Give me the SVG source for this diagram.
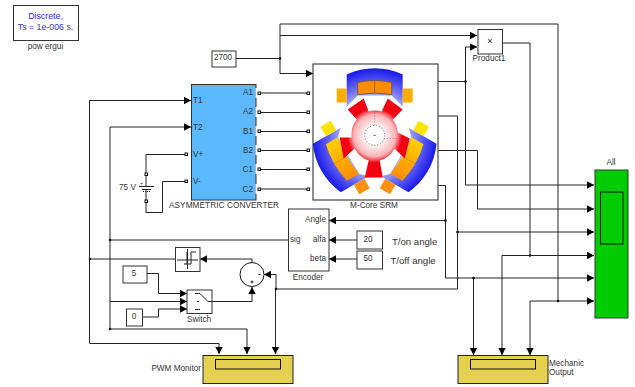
<svg xmlns="http://www.w3.org/2000/svg" width="635" height="387" viewBox="0 0 635 387">
<style>
text{font-family:"Liberation Sans",Arial,sans-serif;font-size:8.2px;fill:#333}
.m{text-anchor:middle}.e{text-anchor:end}
.b{fill:#fff;stroke:#333;stroke-width:1}
.w{fill:none;stroke:#222;stroke-width:1}
.a{marker-end:url(#ar)}
.p{fill:#fff;stroke:#111;stroke-width:1}
.d{fill:#111}
.y{fill:#e6d050;stroke:#222;stroke-width:1}
.i{fill:#e6d050;stroke:#111;stroke-width:1}
.c{stroke:#6b4a10;stroke-width:.7}
.g{font-size:8.800px;fill:#3030e0}
.t{font-size:9.600px}
</style>
<defs>
<marker id="ar" markerUnits="userSpaceOnUse" markerWidth="8" markerHeight="8" refX="7" refY="4" orient="auto"><path d="M0 .3L7 4L0 7.7z" fill="#000"/></marker>
<radialGradient id="gs" gradientUnits="userSpaceOnUse" cx="0" cy="0" r="69"><stop offset=".5" stop-color="#c0c4ff"/><stop offset=".72" stop-color="#6a6cf6"/><stop offset="1" stop-color="#1010e8"/></radialGradient>
<radialGradient id="gr" gradientUnits="userSpaceOnUse" cx="0" cy="0" r="36"><stop offset=".22" stop-color="#fff"/><stop offset=".58" stop-color="#fbb4b8"/><stop offset=".76" stop-color="#f00010"/><stop offset="1" stop-color="#f00010"/></radialGradient>
<linearGradient id="gca"><stop offset="0" stop-color="#ffd000"/><stop offset="1" stop-color="#ff8c00"/></linearGradient>
<linearGradient id="gcb"><stop offset="0" stop-color="#ff8c00"/><stop offset="1" stop-color="#ffd000"/></linearGradient>
</defs>
<g id="connectors">
<path class="w" d="M236 58.500H280"/>
<path class="w a" d="M280 58.500V73.500H313"/>
<path class="w a" d="M280 58.500V35.500H477"/>
<path class="w" d="M280 35.500V24H558V301"/>
<path class="w a" d="M558 301H594"/>
<path class="w a" d="M558 301H530V355"/>
<path class="w" d="M502 43H530V255.500"/>
<path class="w a" d="M530 255.500H594"/>
<path class="w a" d="M530 255.500H502V355"/>
<path class="w" d="M438 81.500H465.500"/>
<path class="w a" d="M465.500 81.500V47H477"/>
<path class="w a" d="M465.500 81.500V185H594"/>
<path class="w" d="M438 116H457.500V232"/>
<path class="w a" d="M457.500 232H594"/>
<path class="w" d="M457.500 232V289H276"/>
<path class="w a" d="M438 150.500H477.500V209H594"/>
<path class="w" d="M438 185.500H445.500V278"/>
<path class="w a" d="M445.500 278H594"/>
<path class="w a" d="M473.500 278V355"/>
<path class="w a" d="M445.500 220.500H329"/>
<path class="w a" d="M357 240H329"/>
<path class="w a" d="M357 259H329"/>
<path class="w a" d="M276 289V274.500H264"/>
<path class="w a" d="M275.500 289V354"/>
<path class="w a" d="M252 301.500V287"/>
<path class="w" d="M212 301.500H252"/>
<path class="w a" d="M252 263V259H200"/>
<path class="w" d="M175 259H90"/>
<path class="w a" d="M89.500 259V100.500H191"/>
<path class="w a" d="M89.500 259V343.500H219V354"/>
<path class="w a" d="M110 329V127H191"/>
<path class="w a" d="M110 329H247V354"/>
<path class="w" d="M110 240H288"/>
<path class="w a" d="M110 301.500H187"/>
<path class="w a" d="M147 273.500H158.500V293.500H187"/>
<path class="w a" d="M142 317H158.500V309H187"/>
<path class="w" d="M186 154.500H146V174"/>
<path class="w" d="M146 201V212.500H162.500V181.500H186"/>
<path class="w" d="M259 93H308M259 112.500H308M259 131.500H308M259 150.500H308M259 169.500H308M259 189H308"/>
<g class="d">
<circle cx="280" cy="58.500" r="1.300"/><circle cx="465.500" cy="81.500" r="1.300"/><circle cx="457.500" cy="232" r="1.300"/><circle cx="445.500" cy="220.500" r="1.300"/>
<circle cx="473.500" cy="278" r="1.300"/><circle cx="530" cy="255.500" r="1.300"/><circle cx="558" cy="301" r="1.300"/><circle cx="276" cy="289" r="1.300"/>
<circle cx="90" cy="259" r="1.300"/><circle cx="110" cy="240" r="1.300"/><circle cx="110" cy="329" r="1.300"/>
</g>
</g>
<g id="powergui">
<rect class="b" x="13.500" y="5.500" width="65" height="35"/>
<text class="m g" x="45.500" y="19">Discrete,</text>
<text class="m g" x="45.500" y="30">Ts = 1e-006 s.</text>
<text class="m" x="45.500" y="49">pow ergui</text>
</g>
<g id="const2700">
<rect class="b" x="212" y="51" width="24" height="16"/>
<text class="m" x="223" y="60">2700</text>
</g>
<g id="product1">
<rect class="b" x="478" y="29.500" width="24.500" height="24.500"/>
<text class="m" x="490" y="44" style="font-size:9px;fill:#111">×</text>
<text class="m" x="489" y="61">Product1</text>
</g>
<g id="converter">
<rect x="191.500" y="84.500" width="64.500" height="115.500" fill="#5cb8fc" stroke="#333"/>
<text x="193" y="103">T1</text><text x="193" y="130">T2</text><text x="193" y="157">V+</text><text x="193" y="184">V-</text>
<text class="e" x="253" y="95">A1</text><text class="e" x="253" y="114">A2</text><text class="e" x="253" y="134">B1</text><text class="e" x="253" y="153">B2</text><text class="e" x="253" y="172">C1</text><text class="e" x="253" y="192">C2</text>
<rect class="p" x="185" y="153" width="2.500" height="2.500"/><rect class="p" x="185" y="180" width="2.500" height="2.500"/>
<path stroke="#fff" stroke-width="2" d="M256.500 88V98M256.500 107V117M256.500 126V136M256.500 145V155M256.500 164V174M256.500 184V194"/>
<g class="ports"><rect class="p" x="258" y="92" width="2.500" height="2.500"/><rect class="p" x="258" y="111" width="2.500" height="2.500"/><rect class="p" x="258" y="130" width="2.500" height="2.500"/><rect class="p" x="258" y="149" width="2.500" height="2.500"/><rect class="p" x="258" y="168" width="2.500" height="2.500"/><rect class="p" x="258" y="188" width="2.500" height="2.500"/></g>
<text x="169" y="208" textLength="110" lengthAdjust="spacing">ASYMMETRIC CONVERTER</text>
</g>
<g id="battery">
<path stroke="#222" fill="none" d="M146 174V186M139 186.500H154M142 189.500H151M146 190V201"/>
<path stroke="#222" stroke-dasharray="1 1" fill="none" d="M143 191.500H150"/>
<rect class="p" x="145" y="173" width="2.500" height="2.500"/><rect class="p" x="145" y="200" width="2.500" height="2.500"/>
<text x="119" y="190">75 V</text><text x="140" y="185" style="font-size:5px">+</text>
</g>
<g id="srm">
<rect x="313" y="64" width="125" height="136" fill="#fff" stroke="#444" stroke-width="1.200"/>
<rect class="p" x="307" y="92" width="2.500" height="2.500"/><rect class="p" x="307" y="111" width="2.500" height="2.500"/><rect class="p" x="307" y="130" width="2.500" height="2.500"/><rect class="p" x="307" y="149" width="2.500" height="2.500"/><rect class="p" x="307" y="168" width="2.500" height="2.500"/><rect class="p" x="307" y="188" width="2.500" height="2.500"/>
<g transform="translate(374.700 135.500)">
<g id="st-top">
<path fill="url(#gs)" d="M-28 -61A67 67 0 0 1 28 -61V-29L17 -40H-17L-28 -29Z"/>
<path fill="#ff8c00" class="c" d="M-17 -53Q0 -57 17 -53V-41Q0 -44 -17 -41Z"/><path class="c" d="M0 -55V-43"/>
<rect x="-38" y="-47" width="10" height="14" fill="#ffae00"/><rect x="28" y="-47" width="10" height="14" fill="#ffae00"/>
</g>
<g id="st-right" transform="translate(-5 2) rotate(120)">
<path fill="url(#gs)" d="M-28 -61A67 67 0 0 1 28 -61V-29L21 -36H-21L-28 -29Z"/>
<path fill="url(#gca)" d="M-21 -50Q0 -55 21 -50V-36Q0 -40 -21 -36Z"/><path stroke="#555" stroke-width=".5" stroke-dasharray="1 1" d="M0 -52V-38"/>
<rect x="-39" y="-46" width="11" height="12" fill="#ffe400"/><rect x="28" y="-46" width="11" height="12" fill="#ff9010"/>
</g>
<g id="st-left" transform="translate(5 2) rotate(-120)">
<path fill="url(#gs)" d="M-28 -61A67 67 0 0 1 28 -61V-29L21 -36H-21L-28 -29Z"/>
<path fill="url(#gcb)" d="M-21 -50Q0 -55 21 -50V-36Q0 -40 -21 -36Z"/><path stroke="#555" stroke-width=".5" stroke-dasharray="1 1" d="M0 -52V-38"/>
<rect x="-39" y="-46" width="11" height="12" fill="#ff9010"/><rect x="28" y="-46" width="11" height="12" fill="#ffe400"/>
</g>
<path fill="url(#gr)" d="M-27 -26L-11 -37L-6 -24A24 24 0 0 1 7 -24L13 -37L28 -26L18 -16A24 24 0 0 1 23 -3L35 3L30 23L20 13A24 24 0 0 1 5 25L8 42H-10L-6 25A24 24 0 0 1 -20 13L-31 23L-35 2L-23 2A24 24 0 0 1 -18 -16Z"/>
<circle r="10" fill="#fff" stroke="#333" stroke-width=".7" stroke-dasharray="1 2"/>
<path fill="none" stroke="#555" stroke-width=".6" stroke-dasharray="1 2" d="M0 -10V-24M9 3L22 3"/>
<path stroke="#333" stroke-width=".8" d="M-1 0H1"/>
</g>
<text class="m" x="374" y="208">M-Core SRM</text>
</g>
<g id="encoder">
<rect class="b" x="288.500" y="209" width="40.500" height="62"/>
<text class="e" x="326" y="222">Angle</text><text class="e" x="326" y="242">alfa</text><text class="e" x="326" y="261">beta</text><text x="290" y="242">sig</text>
<text class="m" x="308" y="280">Encoder</text>
</g>
<g id="const20"><rect class="b" x="357" y="231" width="25.500" height="18"/><text class="m" x="368" y="242">20</text></g>
<g id="const50"><rect class="b" x="357" y="251" width="25.500" height="18"/><text class="m" x="368" y="261">50</text></g>
<text class="t" x="392" y="245">T/on angle</text>
<text class="t" x="390.500" y="264">T/off angle</text>
<g id="relay">
<rect class="b" x="175.500" y="247.500" width="24.500" height="24"/>
<path class="w" d="M177 260H198M187.500 249V269M191 252H196M191 252V264M187 252V264M184 264H191"/>
</g>
<g id="const5"><rect class="b" x="123" y="266" width="24" height="17"/><text class="m" x="134" y="276">5</text></g>
<g id="const0"><rect class="b" x="126.500" y="309" width="16" height="17"/><text class="m" x="134" y="319">0</text></g>
<g id="switch">
<rect class="b" x="187" y="290" width="25" height="23.500"/>
<path class="w" d="M197 301.500H199M195 293.500H200L208 301.500H212M195 309.500H200"/>
<text class="m" x="199" y="322">Switch</text>
</g>
<g id="sum">
<circle cx="252" cy="274.500" r="12" fill="#fff" stroke="#111" stroke-width="1"/>
<path stroke="#222" d="M258.500 274.500H260.500M250.500 282H253.500M252 280.500V283.500"/>
</g>
<g id="pwm">
<rect class="y" x="203" y="355.500" width="90" height="28"/>
<rect class="i" x="215.500" y="359.500" width="65" height="9.500"/>
<text class="e" x="201" y="371">PWM Monitor</text>
</g>
<g id="mech">
<rect class="y" x="458" y="355.500" width="90" height="28"/>
<rect class="i" x="470.500" y="359.500" width="65" height="9.500"/>
<text x="549" y="366">Mechanic</text><text x="549" y="375">Output</text>
</g>
<g id="all">
<rect x="595" y="170" width="33" height="148" fill="#00cc00" stroke="#333"/>
<rect x="600.500" y="192" width="22.500" height="52" fill="#00cc00" stroke="#111"/>
<text class="m" x="611" y="165">All</text>
</g>
</svg>
